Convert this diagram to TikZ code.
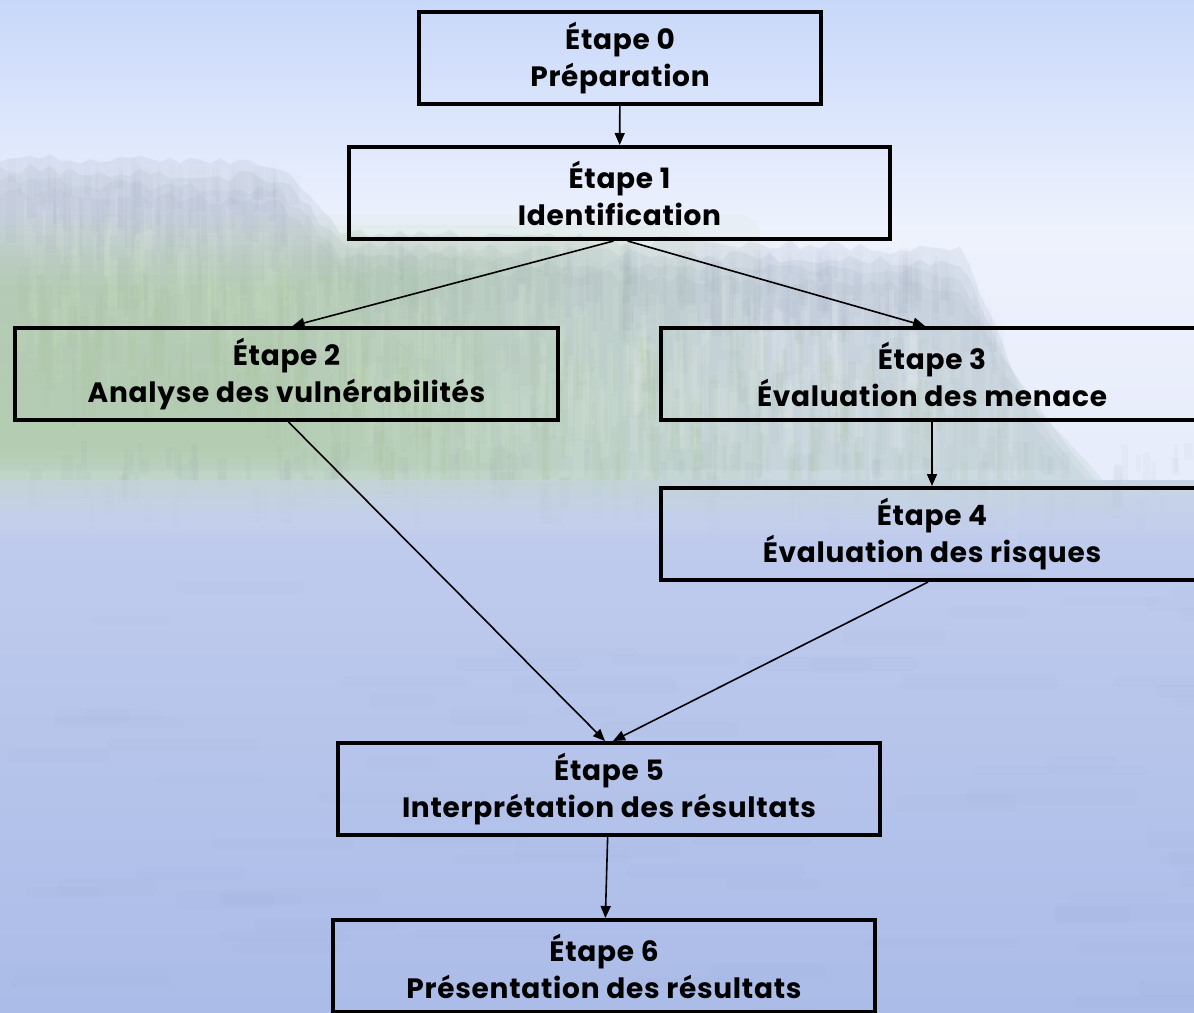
\documentclass[tikz,border=0pt]{standalone}
\usepackage{fontspec}
\setmainfont{Poppins}[LetterSpace=2.6]
\usetikzlibrary{arrows.meta,fadings}
\definecolor{skytop}{HTML}{C8D8FA}
\definecolor{skylow}{HTML}{EEF2FD}
\definecolor{treetop}{HTML}{B8C0D3}
\definecolor{treemid}{HTML}{A0C680}
\definecolor{treelow}{HTML}{B8CCCC}
\definecolor{bankgreen}{HTML}{9CC878}
\definecolor{watertop}{HTML}{C2CDEE}
\definecolor{waterlow}{HTML}{ABBCE8}
\definecolor{streakdark}{HTML}{8E9AB2}
\definecolor{streakgreen}{HTML}{9FBF86}
\tikzfading[name=softtop,top color=transparent!100,bottom color=transparent!0]
\tikzfading[name=softband,top color=transparent!100,middle color=transparent!0,bottom color=transparent!100]
\begin{document}
\begin{tikzpicture}[x=1pt,y=-1pt,
  declare function={tl(\x)=(\x<280) ? (150+\x/28) : ((\x<340) ? (160+(\x-280)*1.1) : ((\x<960) ? (226+(\x-340)*0.03) : (245+min(\x-960,40)*2)));},
  stepbox/.style={draw=black,line width=4pt,minimum width=542pt,minimum height=92pt,
    align=center,inner sep=0pt,font=\fontsize{28}{37}\selectfont\bfseries},
  link/.style={line width=1.6pt,-{Triangle[length=12pt,width=10pt]}}]
% frame
\useasboundingbox (0,0) rectangle (1194,1012);
\begin{scope}
\clip (0,0) rectangle (1194,1012);
% sky and water
\shade[top color=skytop,bottom color=skylow] (0,0) rectangle (1194,230);
\shade[top color=skylow,bottom color=skylow!85!watertop] (0,230) rectangle (1194,480);
\shade[top color=watertop,bottom color=waterlow] (0,480) rectangle (1194,1012);
% far shore, right side (faint)
\fill[treelow!70!treemid,opacity=0.7,path fading=softband] (940,415) rectangle (1194,490);
\fill[treetop,opacity=0.25,path fading=softband] (940,290) rectangle (1194,340);
% tree line, built up in soft layers
\foreach \k in {0,1,2,3}{
  \pgfmathsetseed{11+\k}
  \shade[top color=treetop,middle color=treemid,bottom color=treelow,opacity=0.24]
    (0,{470+14*\k}) -- (0,{tl(0)+12*\k})
    \foreach \x in {0,10,...,1000}{ -- (\x,{tl(\x)+12*\k+12*rnd}) }
    -- ({1030+20*\k},{420+15*\k}) -- ({1070+20*\k},{470+14*\k}) -- cycle;
}
% lighter haze in the middle of the tree line
\fill[skylow,opacity=0.25,path fading=softband] (560,235) rectangle (1000,470);
% vertical streaks of the trees and their reflections
\pgfmathsetseed{5}
\foreach \i in {1,...,300}{
  \pgfmathsetmacro\xx{random(0,1000)}
  \pgfmathsetmacro\tp{tl(\xx)+10*rnd}
  \pgfmathsetmacro\ww{3+8*rnd}
  \fill[streakdark,opacity=0.07,path fading=softtop] (\xx,\tp) rectangle ++(\ww,{30+70*rnd});
  \fill[white,opacity=0.08] ({\xx+20*rnd},{\tp+40+120*rnd}) rectangle ++(\ww,{30+60*rnd});
  \fill[streakgreen,opacity=0.06] ({\xx+30*rnd},{\tp+80+140*rnd}) rectangle ++(\ww,{30+40*rnd});
}
\foreach \i in {1,...,140}{
  \pgfmathsetmacro\xx{random(0,1194)}
  \pgfmathsetmacro\yy{440+60*rnd}
  \fill[streakdark,opacity=0.06] (\xx,\yy) rectangle ++({4+8*rnd},{15+25*rnd});
}
% greener bank on the left, stacked thin washes that thin out to the right
\foreach \k in {0,...,7}{
  \fill[bankgreen,opacity=0.06,rounded corners=20pt] (-30,{215+10*\k}) rectangle ({760-65*\k},{500-7*\k});
}
% soft transition from shore to water
\shade[top color=treelow!60!skylow,bottom color=watertop,opacity=0.6] (0,480) rectangle (1194,540);
% ripples on the water
\foreach \i in {1,...,70}{
  \pgfmathsetmacro\xx{random(0,1194)}
  \pgfmathsetmacro\yy{560+450*rnd}
  \fill[waterlow!85!black,opacity=0.04,rounded corners=5pt] (\xx,\yy) rectangle ++({60+120*rnd},{8+10*rnd});
}
\end{scope}
% steps
\node[stepbox,minimum width=402pt] (b0) at (620,58) {Étape 0\\Préparation};
\node[stepbox,minimum width=541pt] (b1) at (619.5,193) {Étape 1\\Identification};
\node[stepbox,minimum width=543pt] (b2) at (286.5,374) {Étape 2\\Analyse des vulnérabilités};
\node[stepbox] (b3) at (932,374) {Étape 3\\Évaluation des menace};
\node[stepbox] (b4) at (932,534) {Étape 4\\Évaluation des risques};
\node[stepbox] (b5) at (609,789) {Étape 5\\Interprétation des résultats};
\node[stepbox] (b6) at (604,966) {Étape 6\\Présentation des résultats};
% flow
\draw[link] (b0) -- (b1);
\draw[link] ([xshift=-6pt]b1.south) -- ([xshift=6pt]b2.north);
\draw[link] ([xshift=8pt]b1.south) -- ([xshift=-7pt]b3.north);
\draw[link] (b3) -- (b4);
\draw[link] ([xshift=2pt]b2.south) -- ([xshift=-4pt]b5.north);
\draw[link] ([xshift=-4pt]b4.south) -- ([xshift=4pt]b5.north);
\draw[link] (b5) -- (b6);
\end{tikzpicture}
\end{document}
